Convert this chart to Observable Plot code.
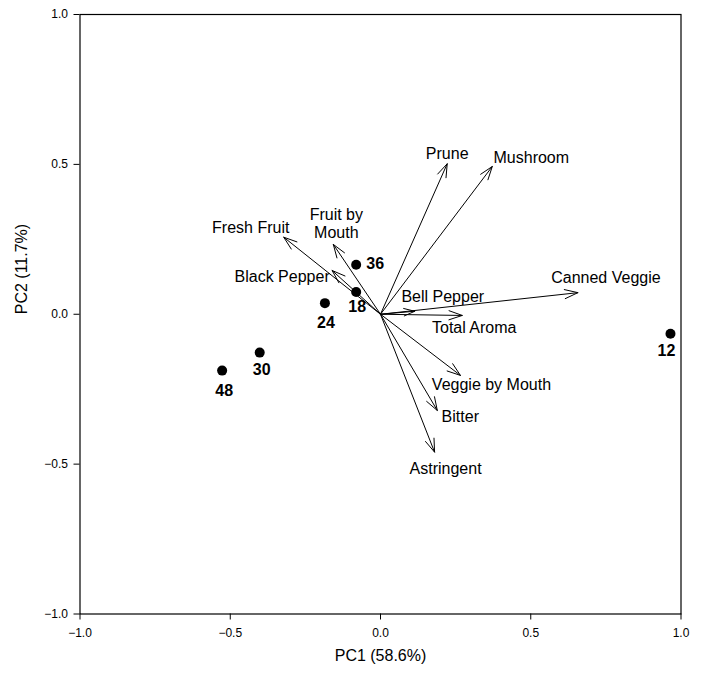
<!DOCTYPE html>
<html>
<head>
<meta charset="utf-8">
<script src="https://cdn.jsdelivr.net/npm/d3@7"></script>
<script src="https://cdn.jsdelivr.net/npm/@observablehq/plot@0.6"></script>
<style>
  html, body { margin: 0; padding: 0; background: #fff; }
  svg { display: block; }
</style>
</head>
<body>
<div id="chart"></div>
<script>
// Sample scores (storage time labels)
const samples = ["12", "36", "18", "24", "30", "48"];
const pc1Scores = [0.965, -0.081, -0.081, -0.185, -0.402, -0.527];
const pc2Scores = [-0.065, 0.165, 0.074, 0.037, -0.128, -0.188];

// Attribute loadings
const attributes = ["Prune", "Mushroom", "Canned Veggie", "Bell Pepper", "Total Aroma",
  "Veggie by Mouth", "Bitter", "Astringent", "Fresh Fruit", "Fruit by\nMouth", "Black Pepper"];
const pc1Loadings = [0.222, 0.372, 0.657, 0.114, 0.272, 0.266, 0.189, 0.180, -0.322, -0.157, -0.161];
const pc2Loadings = [0.502, 0.493, 0.072, 0.010, -0.004, -0.204, -0.321, -0.460, 0.257, 0.233, 0.146];

// Axis ticks
const ticks = [-1.0, -0.5, 0.0, 0.5, 1.0];
const xLabel = "PC1 (58.6%)";
const yLabel = "PC2 (11.7%)";

// label placement (pixels, relative to point / arrow tip)
const sampleLabelOffsets = [[-4, 17], [19, -1], [1, 15], [1, 20], [2, 17], [2, 20]];
const attrLabelOffsets = [[0, -10], [39, -9], [28, -15], [28, -15], [12, 12], [31, 9],
  [23, 6], [11, 16], [-33, -10], [3, -21], [-50, 6]];

const scores = samples.map((s, i) => ({label: s, x: pc1Scores[i], y: pc2Scores[i],
  dx: sampleLabelOffsets[i][0], dy: sampleLabelOffsets[i][1]}));
const loadings = attributes.map((a, i) => ({label: a, x: pc1Loadings[i], y: pc2Loadings[i],
  dx: attrLabelOffsets[i][0], dy: attrLabelOffsets[i][1]}));

const font = "'Liberation Sans', Arial, sans-serif";

const chart = Plot.plot({
  width: 702,
  height: 675,
  marginLeft: 79.5,
  marginRight: 21.5,
  marginTop: 14,
  marginBottom: 61.5,
  style: {fontFamily: font, background: "white", color: "black"},
  x: {domain: [-1, 1]},
  y: {domain: [-1, 1]},
  marks: [
    Plot.frame({stroke: "black", strokeWidth: 1.2}),
    Plot.axisX({ticks, tickFormat: d3.format(".1f"), tickSize: 6, tickPadding: 8, fontSize: 12, label: null, stroke: "black"}),
    Plot.axisY({ticks, tickFormat: d3.format(".1f"), tickSize: 6, tickPadding: 6, fontSize: 12, label: null, stroke: "black"}),
    Plot.text([xLabel], {frameAnchor: "bottom", dy: 47, fontSize: 16, fill: "black"}),
    Plot.text([yLabel], {frameAnchor: "left", dx: -58.5, rotate: -90, fontSize: 16, fill: "black"}),
    Plot.arrow(loadings, {x1: () => 0, y1: () => 0, x2: "x", y2: "y", stroke: "black", strokeWidth: 1,
      headAngle: 38, headLength: 21}),
    ...loadings.map(d => Plot.text([d], {x: "x", y: "y", text: "label", dx: d.dx, dy: d.dy,
      fontSize: 16, fill: "black", lineHeight: 1.08})),
    Plot.dot(scores, {x: "x", y: "y", r: 5, fill: "black"}),
    ...scores.map(d => Plot.text([d], {x: "x", y: "y", text: "label", dx: d.dx, dy: d.dy,
      fontSize: 16, fontWeight: "bold", fill: "black"}))
  ]
});
document.getElementById("chart").appendChild(chart);
</script>
</body>
</html>
